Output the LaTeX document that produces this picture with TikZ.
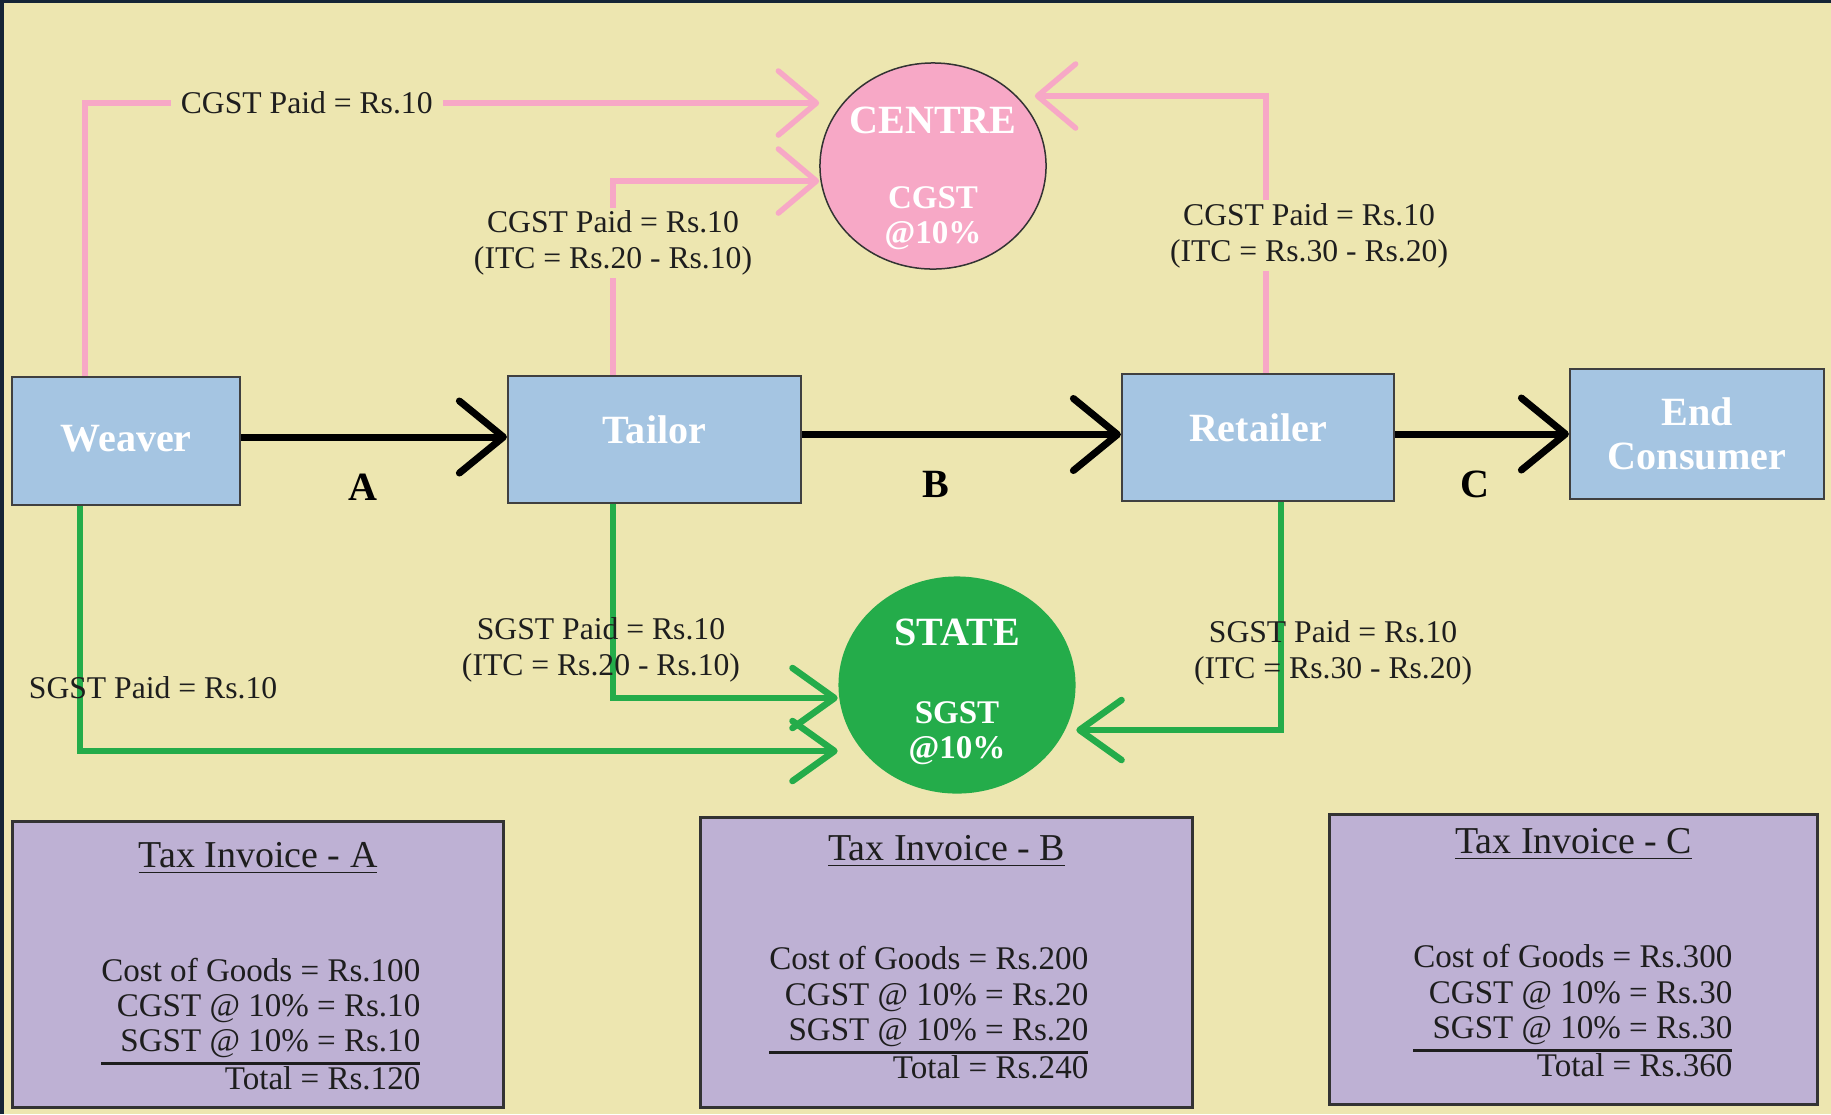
\documentclass[tikz,border=0pt]{standalone}
\usepackage{fontspec}
\setmainfont{Liberation Serif}
\usetikzlibrary{arrows.meta,positioning,calc,shapes.geometric}
\setlength{\arrayrulewidth}{0.8pt}

\definecolor{paper}{RGB}{237,230,176}
\definecolor{frame}{RGB}{21,36,54}
\definecolor{stageblue}{RGB}{165,197,226}
\definecolor{cgstpink}{RGB}{247,168,198}
\definecolor{sgstgreen}{RGB}{36,172,74}
\definecolor{invlilac}{RGB}{190,177,212}
\definecolor{ink}{RGB}{30,30,30}

\tikzset{
	stagebox/.style={rectangle, draw=black!75, line width=0.02cm, fill=stageblue, text=white, font=\fontsize{11.4}{12.6}\selectfont\bfseries, align=center},
	govthead/.style={text=white, font=\fontsize{11.4}{12.6}\selectfont\bfseries},
	govtrate/.style={text=white, font=\fontsize{9.4}{10}\selectfont\bfseries, align=center},
	flow/.style={draw=black, line width=0.07cm, -{Straight Barb[length=0.44cm, width=0.72cm, round]}},
	flowlabel/.style={text=black, font=\fontsize{11.4}{12.6}\selectfont\bfseries, inner sep=0pt},
	cgstline/.style={draw=cgstpink, line width=0.055cm, -{Straight Barb[length=0.38cm, width=0.64cm, round]}},
	sgstline/.style={draw=sgstgreen, line width=0.065cm, -{Straight Barb[length=0.42cm, width=0.6cm, round]}},
	paidlabel/.style={text=ink, font=\fontsize{9}{10.2}\selectfont, align=center, inner xsep=0.1cm, inner ysep=0.03cm},
	invbox/.style={rectangle, draw=black!80, line width=0.03cm, fill=invlilac},
	invtitle/.style={text=ink, font=\fontsize{10.8}{12}\selectfont, inner sep=0pt, anchor=base},
	invbody/.style={text=ink, font=\fontsize{9.4}{10}\selectfont, inner sep=0pt, anchor=east},
}

\begin{document}
\begin{tikzpicture}[x=0.01cm, y=-0.01cm]
		\useasboundingbox (0,0) rectangle (1831,1114);
		\fill[frame] (0,0) rectangle (1831,1114);
		\fill[paper] (4,3) rectangle (1831,1114);

		\node at (126,441) [stagebox, minimum width=2.28cm, minimum height=1.28cm, text depth=0.05cm] (W) {Weaver};
		\node at (654.5,439.5) [stagebox, minimum width=2.93cm, minimum height=1.27cm, text depth=0.19cm] (T) {Tailor};
		\node at (1258,437.5) [stagebox, minimum width=2.72cm, minimum height=1.27cm, text depth=0.19cm] (R) {Retailer};
		\node at (1697,434) [stagebox, minimum width=2.54cm, minimum height=1.30cm] (E) {End\\Consumer};

		\node at (933,166) [ellipse, draw=black!80, line width=0.015cm, fill=cgstpink, minimum width=2.26cm, minimum height=2.06cm, inner sep=0pt] (C) {};
		\node at ([yshift=0.46cm]C.center) [govthead] (Ch) {CENTRE};
		\node at ([yshift=-0.52cm]C.center) [govtrate] (Cr) {CGST\\@10\%};
		\node at (957,685) [ellipse, fill=sgstgreen, minimum width=2.37cm, minimum height=2.17cm, inner sep=0pt] (S) {};
		\node at ([yshift=0.53cm]S.center) [govthead] (Sh) {STATE};
		\node at ([yshift=-0.48cm]S.center) [govtrate] (Sr) {SGST\\@10\%};

		\draw[flow] ([yshift=0.04cm]W.east) -- ([yshift=0.04cm]W.east -| T.west) node[pos=0.46, below=0.33cm, flowlabel] (la) {A};
		\draw[flow] ([yshift=0.05cm]T.east) -- ([yshift=0.05cm]T.east -| R.west) node[pos=0.42, below=0.33cm, flowlabel] (lb) {B};
		\draw[flow] ([yshift=0.035cm]R.east) -- ([yshift=0.035cm]R.east -| E.west) node[pos=0.46, below=0.33cm, flowlabel] (lc) {C};

		\coordinate (wc) at (85,103);
		\coordinate (tc) at (613,181);
		\coordinate (rc) at (1266,96);
		\draw[cgstline] (W.north -| wc) |- (wc -| C.west) node[pos=0.651, paidlabel, fill=paper] (cw) {CGST Paid = Rs.10};
		\draw[cgstline] (T.north -| tc) |- (tc -| C.west) node[pos=0.34, paidlabel, fill=paper] (ct) {CGST Paid = Rs.10\\(ITC = Rs.20 - Rs.10)};
		\draw[cgstline, shorten >=-0.12cm] (R.north -| rc) |- (rc -| C.east) node[pos=0.248, paidlabel, fill=paper, xshift=0.43cm] (cr) {CGST Paid = Rs.10\\(ITC = Rs.30 - Rs.20)};

		\coordinate (ws) at (80,751);
		\coordinate (ts) at (613,698);
		\coordinate (rs) at (1281,730);
		\draw[sgstline] (W.south -| ws) |- (ws -| S.west) node[pos=0.37, paidlabel, xshift=0.73cm] (sw) {SGST Paid = Rs.10};
		\draw[sgstline] (T.south -| ts) |- (ts -| S.west) node[pos=0.375, paidlabel, xshift=-0.12cm] (st) {SGST Paid = Rs.10\\(ITC = Rs.20 - Rs.10)};
		\draw[sgstline] (R.south -| rs) |- (rs -| S.east) node[pos=0.33, paidlabel, xshift=0.52cm] (sr) {SGST Paid = Rs.10\\(ITC = Rs.30 - Rs.20)};

		\node at (258,964.5) [invbox, minimum width=4.90cm, minimum height=2.85cm] (IA) {};
		\node at ([yshift=-0.47cm]IA.north) [invtitle] (IAt) {\underline{Tax Invoice - A}};
		\node at (421,1028.6) [invbody] (IAb) {\begin{tabular}{@{}r@{}}Cost of Goods = Rs.100\\CGST @ 10\% = Rs.10\\SGST @ 10\% = Rs.10\\\hline Total = Rs.120\end{tabular}};

		\node at (946.5,962.5) [invbox, minimum width=4.91cm, minimum height=2.89cm] (IB) {};
		\node at ([yshift=-0.44cm]IB.north) [invtitle] (IBt) {\underline{Tax Invoice - B}};
		\node at (1089,1017) [invbody] (IBb) {\begin{tabular}{@{}r@{}}Cost of Goods = Rs.200\\CGST @ 10\% = Rs.20\\SGST @ 10\% = Rs.20\\\hline Total = Rs.240\end{tabular}};

		\node at (1573.5,959.5) [invbox, minimum width=4.87cm, minimum height=2.89cm] (IC) {};
		\node at ([yshift=-0.40cm]IC.north) [invtitle] (ICt) {\underline{Tax Invoice - C}};
		\node at (1733,1015) [invbody] (ICb) {\begin{tabular}{@{}r@{}}Cost of Goods = Rs.300\\CGST @ 10\% = Rs.30\\SGST @ 10\% = Rs.30\\\hline Total = Rs.360\end{tabular}};
\end{tikzpicture}
\end{document}
